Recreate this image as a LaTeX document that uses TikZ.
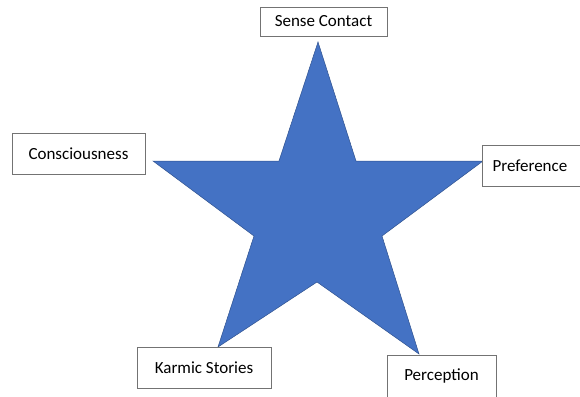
\documentclass[tikz,border=0pt]{standalone}
\usepackage{fontspec}
\setmainfont{Carlito}
\definecolor{starblue}{HTML}{4472C4}
\definecolor{staredge}{HTML}{2F528F}

\begin{document}
\begin{tikzpicture}
  [x=1pt, y=-1pt,
  label box/.style={draw=black!55, line width=0.7pt, fill=white,
    inner sep=0pt, font=\fontsize{17}{20}\selectfont},
  star/.style={fill=starblue, draw=staredge, line width=0.5pt}]
  \useasboundingbox (0,0) rectangle (580,396);
  \clip (0,0) rectangle (580,396);
  % star points, clockwise from the top
  \coordinate (top) at (318,42);
  \coordinate (in1) at (356,161);
  \coordinate (right) at (483,161);
  \coordinate (in2) at (382,236);
  \coordinate (botr) at (419,354);
  \coordinate (in3) at (317,282);
  \coordinate (botl) at (218,347);
  \coordinate (in4) at (254,236);
  \coordinate (left) at (153,161);
  \coordinate (in5) at (279,161);
  \draw[star] (top) -- (in1) -- (right) -- (in2) -- (botr) -- (in3)
    -- (botl) -- (in4) -- (left) -- (in5) -- cycle;
  % labels
  \node[label box, minimum width=127pt, minimum height=29pt] (contact) at (323.5,21.5) {Sense Contact\hspace{4pt}};
  \node[label box, minimum width=133pt, minimum height=41pt] (conscious) at (78.5,153.5) {Consciousness};
  \node[label box, minimum width=110pt, minimum height=41pt, text width=89pt, align=left] (preference) at (537,165.5) {Preference};
  \node[label box, minimum width=134pt, minimum height=41pt] (karmic) at (204,367.5) {Karmic Stories\hspace{16pt}};
  \node[label box, minimum width=109pt, minimum height=42pt] (perception) at (441.5,376) {Perception\hspace{14pt}};
\end{tikzpicture}
\end{document}
